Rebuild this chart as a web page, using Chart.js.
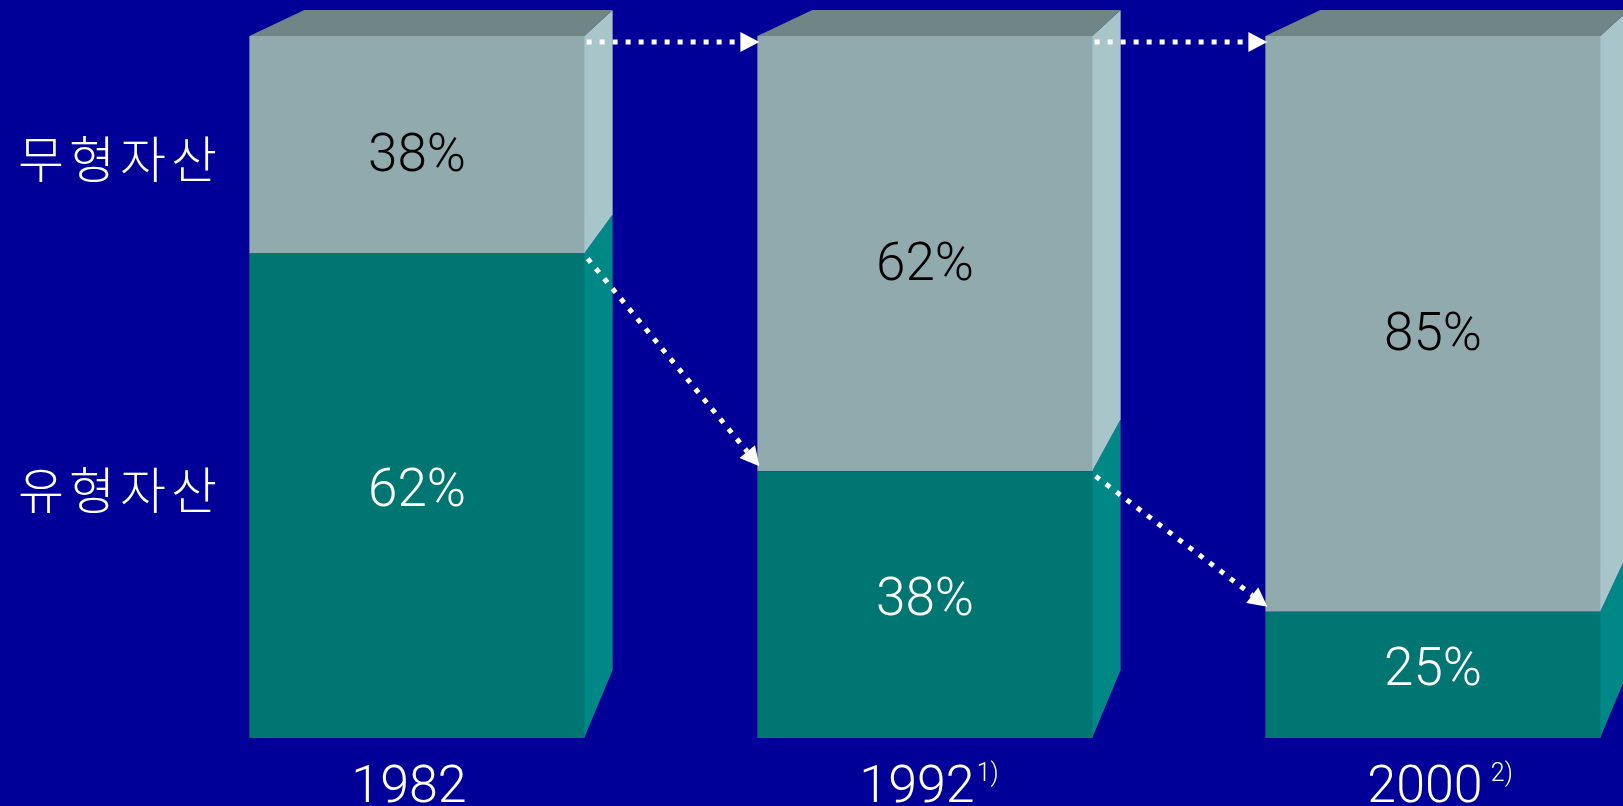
<!DOCTYPE html>
<html>
<head>
<meta charset="utf-8">
<script src="https://cdn.jsdelivr.net/npm/chart.js@4.4.1/dist/chart.umd.min.js"></script>
<style>
  html, body { margin: 0; padding: 0; background: #000099; overflow: hidden; }
  canvas { display: block; }
</style>
</head>
<body>
<canvas id="chartjs-0" width="1623" height="806"></canvas>
<script>
// values (bar heights, % of total)
var years = ["1982", "1992", "2000"];
var yearNotes = ["", "1)", " 2)"];
var seriesNames = ["유형자산", "무형자산"];
var tangible = [69, 38, 18];
var intangible = [31, 62, 82];
// printed labels as they appear on the slide
var tangibleText = ["62%", "38%", "25%"];
var intangibleText = ["38%", "62%", "85%"];

var frontTeal = "#007673";
var sideTeal = "#008886";
var frontGrey = "#91aaad";
var sideGrey = "#a8c6c9";
var topGrey = "#708686";

function poly(ctx, pts, color) {
  ctx.beginPath();
  ctx.moveTo(pts[0][0], pts[0][1]);
  for (var i = 1; i < pts.length; i++) ctx.lineTo(pts[i][0], pts[i][1]);
  ctx.closePath();
  ctx.fillStyle = color;
  ctx.fill();
}

function dottedArrow(ctx, x0, y0, x1, y1) {
  var ang = Math.atan2(y1 - y0, x1 - x0);
  var head = 19;
  ctx.save();
  ctx.strokeStyle = "#ffffff";
  ctx.lineWidth = 5;
  ctx.setLineDash([5, 8]);
  ctx.beginPath();
  ctx.moveTo(x0, y0);
  ctx.lineTo(x1 - Math.cos(ang) * head, y1 - Math.sin(ang) * head);
  ctx.stroke();
  ctx.setLineDash([]);
  ctx.translate(x1, y1);
  ctx.rotate(ang);
  ctx.beginPath();
  ctx.moveTo(0, 0);
  ctx.lineTo(-head, -10);
  ctx.lineTo(-head, 10);
  ctx.closePath();
  ctx.fillStyle = "#ffffff";
  ctx.fill();
  ctx.restore();
}

// side and top faces of the boxes
var depthPlugin = {
  id: "depth",
  afterDatasetsDraw: function (chart) {
    var ctx = chart.ctx;
    var top = chart.chartArea.top;
    var low = chart.getDatasetMeta(0).data;
    var high = chart.getDatasetMeta(1).data;
    var back = function (y) { return y - 26 - 0.06 * (y - top); };
    ctx.save();
    for (var i = 0; i < low.length; i++) {
      var bar = low[i];
      var up = high[i];
      var L = bar.x - bar.width / 2;
      var R = bar.x + bar.width / 2;
      poly(ctx, [[R - 0.5, bar.y], [R + 28, back(bar.y)], [R + 28, back(bar.base)], [R - 0.5, bar.base]], sideTeal);
      poly(ctx, [[R - 0.5, up.y], [R + 28, back(up.y)], [R + 28, back(bar.y)], [R - 0.5, bar.y]], sideGrey);
      poly(ctx, [[L, up.y], [L + 55, up.y - 26], [R + 28, up.y - 26], [R, up.y]], topGrey);
    }
    ctx.restore();
  },
  afterDraw: function (chart) {
    var ctx = chart.ctx;
    var low = chart.getDatasetMeta(0).data;
    var high = chart.getDatasetMeta(1).data;

    ctx.save();
    ctx.textAlign = "center";
    ctx.textBaseline = "middle";

    // values inside the boxes
    ctx.font = "300 53px Roboto";
    for (var i = 0; i < low.length; i++) {
      ctx.fillStyle = "#ffffff";
      ctx.fillText(tangibleText[i], low[i].x, (low[i].y + low[i].base) / 2 - 3);
      ctx.fillStyle = "#000000";
      ctx.fillText(intangibleText[i], high[i].x, (high[i].y + high[i].base) / 2 + 13);
    }

    // row names on the left
    ctx.fillStyle = "#ffffff";
    ctx.font = "300 50px 'Noto Sans CJK KR'";
    ctx.letterSpacing = "5px";
    ctx.fillText(seriesNames[1], 120, (high[0].y + high[0].base) / 2 + 14);
    ctx.fillText(seriesNames[0], 120, (low[0].y + low[0].base) / 2 - 6);
    ctx.letterSpacing = "0px";

    // year labels with footnote marks
    var baseY = chart.chartArea.bottom + 64;
    for (var j = 0; j < low.length; j++) {
      ctx.font = "300 52px Roboto";
      ctx.textAlign = "center";
      ctx.textBaseline = "alphabetic";
      var cx = low[j].x - 8;
      ctx.fillText(years[j], cx, baseY);
      if (yearNotes[j]) {
        var w = ctx.measureText(years[j]).width;
        ctx.font = "300 25px Roboto";
        ctx.textAlign = "left";
        ctx.fillText(yearNotes[j], cx + w / 2 + 2, baseY - 21);
      }
    }
    ctx.restore();

    // dotted arrows between the boxes
    var top = chart.chartArea.top;
    for (var k = 0; k < low.length - 1; k++) {
      var R = low[k].x + low[k].width / 2;
      var L2 = low[k + 1].x - low[k + 1].width / 2;
      dottedArrow(ctx, R + 2, top + 6, L2 + 2, top + 6);
      dottedArrow(ctx, R + 3, low[k].y + 5, L2 + 2, low[k + 1].y - 5);
    }
  }
};

var ctx0 = document.getElementById("chartjs-0");
var myChart = new Chart(ctx0, {
  type: "bar",
  data: {
    labels: years,
    datasets: [
      {
        label: seriesNames[0],
        data: tangible,
        backgroundColor: frontTeal,
        borderWidth: 0,
        clip: false
      },
      {
        label: seriesNames[1],
        data: intangible,
        backgroundColor: frontGrey,
        borderWidth: 0,
        clip: false
      }
    ]
  },
  options: {
    responsive: false,
    animation: false,
    layout: { padding: { left: 417, right: 190, top: 36, bottom: 68 } },
    plugins: { legend: { display: false }, tooltip: { enabled: false } },
    datasets: { bar: { categoryPercentage: 1, barPercentage: 0.66 } },
    scales: {
      x: { stacked: true, offset: false, display: false },
      y: { stacked: true, min: 0, max: 100, display: false }
    }
  },
  plugins: [depthPlugin]
});
</script>
</body>
</html>
